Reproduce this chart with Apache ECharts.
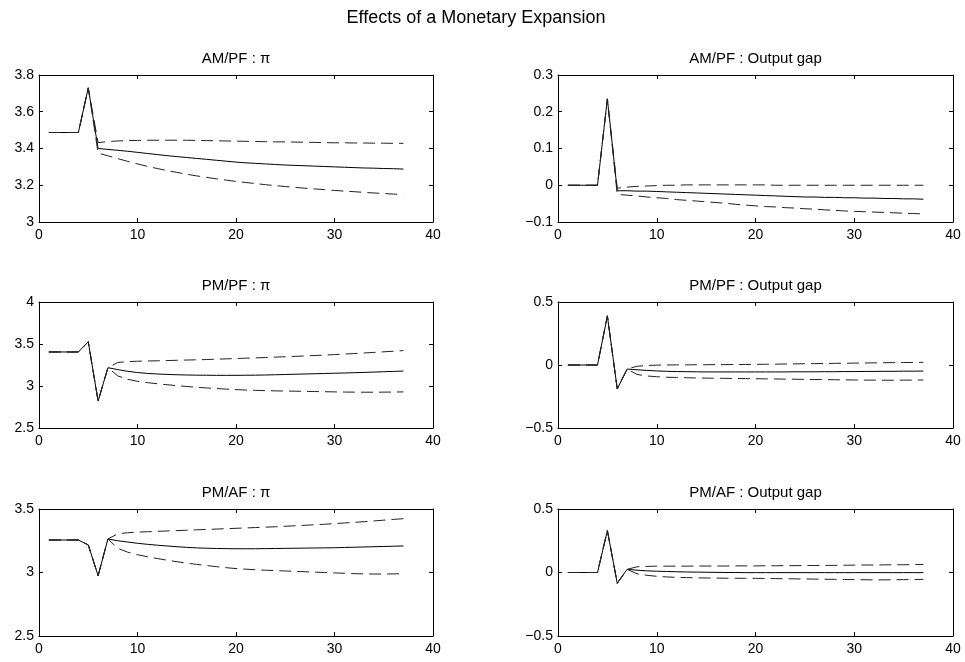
<!DOCTYPE html>
<html>
<head>
    <meta charset="UTF-8">
    <title>Effects of a Monetary Expansion</title>
    <script type="text/javascript" src="https://cdn.jsdelivr.net/npm/echarts@6/dist/echarts.min.js"></script>
</head>
<body style="margin: 0;background: #fff;">
<div id="chart" style="width: 965px;height: 662px;"></div>
<script type="text/javascript">
    var periods = [1, 2, 3, 4, 5, 6, 7, 8, 9, 10, 11, 12, 13, 14, 15, 16, 17, 18, 19, 20,
        21, 22, 23, 24, 25, 26, 27, 28, 29, 30, 31, 32, 33, 34, 35, 36, 37];
    var xTicks = [0, 10, 20, 30, 40];

    // AM/PF : pi
    var amPfInflMed = [3.487, 3.487, 3.487, 3.487, 3.730, 3.400, 3.395, 3.390, 3.385, 3.379, 3.373, 3.367, 3.361, 3.356, 3.351, 3.346, 3.341, 3.336, 3.331, 3.326,
        3.322, 3.319, 3.316, 3.313, 3.310, 3.308, 3.306, 3.304, 3.302, 3.300, 3.298, 3.296, 3.294, 3.293, 3.291, 3.290, 3.288];
    var amPfInflUp = [3.487, 3.487, 3.487, 3.487, 3.730, 3.432, 3.438, 3.441, 3.443, 3.444, 3.445, 3.445, 3.445, 3.445, 3.445, 3.444, 3.443, 3.442, 3.441, 3.440,
        3.439, 3.438, 3.437, 3.436, 3.436, 3.435, 3.434, 3.433, 3.432, 3.431, 3.431, 3.430, 3.430, 3.429, 3.429, 3.428, 3.428];
    var amPfInflLo = [3.487, 3.487, 3.487, 3.487, 3.730, 3.375, 3.360, 3.345, 3.330, 3.316, 3.303, 3.291, 3.280, 3.270, 3.260, 3.251, 3.243, 3.235, 3.228, 3.221,
        3.215, 3.209, 3.203, 3.198, 3.193, 3.188, 3.184, 3.180, 3.176, 3.172, 3.168, 3.165, 3.161, 3.158, 3.155, 3.152, 3.149];
    var amPfInflTicks = [3, 3.2, 3.4, 3.6, 3.8];

    // AM/PF : Output gap
    var amPfGapMed = [0, 0, 0, 0, 0.235, -0.015, -0.015, -0.016, -0.016, -0.017, -0.018, -0.019, -0.020, -0.021, -0.022, -0.023, -0.024, -0.025, -0.026, -0.027,
        -0.028, -0.029, -0.030, -0.031, -0.032, -0.032, -0.033, -0.033, -0.034, -0.034, -0.035, -0.035, -0.036, -0.036, -0.037, -0.037, -0.038];
    var amPfGapUp = [0, 0, 0, 0, 0.235, -0.008, -0.005, -0.003, -0.002, -0.001, 0, 0, 0.001, 0.001, 0.001, 0.001, 0.001, 0.001, 0.001, 0.001,
        0.001, 0, 0, 0, 0, 0, 0, 0, 0, 0, 0, 0, 0, 0, 0, 0, 0];
    var amPfGapLo = [0, 0, 0, 0, 0.235, -0.025, -0.027, -0.029, -0.032, -0.034, -0.036, -0.039, -0.041, -0.043, -0.045, -0.047, -0.049, -0.052, -0.054, -0.056,
        -0.058, -0.059, -0.061, -0.062, -0.064, -0.065, -0.067, -0.068, -0.070, -0.071, -0.072, -0.073, -0.074, -0.075, -0.076, -0.077, -0.078];
    var amPfGapTicks = [-0.1, 0, 0.1, 0.2, 0.3];

    // PM/PF : pi
    var pmPfInflMed = [3.405, 3.405, 3.405, 3.405, 3.527, 2.820, 3.218, 3.195, 3.175, 3.160, 3.150, 3.143, 3.138, 3.134, 3.131, 3.129, 3.128, 3.127, 3.127, 3.127,
        3.128, 3.129, 3.131, 3.134, 3.137, 3.140, 3.143, 3.146, 3.149, 3.152, 3.155, 3.158, 3.162, 3.166, 3.170, 3.174, 3.178];
    var pmPfInflUp = [3.405, 3.405, 3.405, 3.405, 3.527, 2.820, 3.218, 3.280, 3.290, 3.295, 3.298, 3.300, 3.303, 3.306, 3.309, 3.312, 3.315, 3.319, 3.323, 3.327,
        3.331, 3.335, 3.339, 3.344, 3.348, 3.353, 3.358, 3.363, 3.368, 3.374, 3.380, 3.386, 3.393, 3.400, 3.407, 3.414, 3.422];
    var pmPfInflLo = [3.405, 3.405, 3.405, 3.405, 3.527, 2.820, 3.218, 3.120, 3.080, 3.055, 3.040, 3.027, 3.015, 3.004, 2.994, 2.985, 2.977, 2.970, 2.963, 2.957,
        2.952, 2.948, 2.945, 2.942, 2.940, 2.938, 2.936, 2.934, 2.932, 2.930, 2.928, 2.927, 2.926, 2.926, 2.927, 2.928, 2.930];
    var pmPfInflTicks = [2.5, 3, 3.5, 4];

    // PM/PF : Output gap
    var pmPfGapMed = [0, 0, 0, 0, 0.390, -0.190, -0.032, -0.038, -0.043, -0.047, -0.050, -0.052, -0.053, -0.054, -0.055, -0.055, -0.055, -0.055, -0.055, -0.055,
        -0.055, -0.055, -0.055, -0.054, -0.054, -0.054, -0.053, -0.053, -0.052, -0.052, -0.051, -0.051, -0.050, -0.050, -0.049, -0.049, -0.048];
    var pmPfGapUp = [0, 0, 0, 0, 0.390, -0.190, -0.032, -0.010, -0.004, -0.001, 0, 0.001, 0.001, 0.002, 0.002, 0.003, 0.003, 0.004, 0.004, 0.005,
        0.006, 0.007, 0.008, 0.009, 0.010, 0.011, 0.012, 0.013, 0.014, 0.015, 0.016, 0.017, 0.018, 0.019, 0.020, 0.020, 0.021];
    var pmPfGapLo = [0, 0, 0, 0, 0.390, -0.190, -0.032, -0.075, -0.087, -0.093, -0.097, -0.099, -0.101, -0.103, -0.104, -0.105, -0.106, -0.107, -0.108, -0.109,
        -0.110, -0.111, -0.112, -0.113, -0.114, -0.115, -0.116, -0.117, -0.118, -0.119, -0.120, -0.120, -0.121, -0.121, -0.120, -0.120, -0.119];
    var pmPfGapTicks = [-0.5, 0, 0.5];

    // PM/AF : pi
    var pmAfInflMed = [3.256, 3.256, 3.256, 3.256, 3.217, 2.975, 3.264, 3.250, 3.240, 3.230, 3.222, 3.215, 3.209, 3.203, 3.198, 3.194, 3.191, 3.189, 3.188, 3.187,
        3.187, 3.187, 3.188, 3.189, 3.190, 3.191, 3.192, 3.193, 3.194, 3.195, 3.197, 3.199, 3.201, 3.203, 3.205, 3.207, 3.209];
    var pmAfInflUp = [3.256, 3.256, 3.256, 3.256, 3.217, 2.975, 3.264, 3.305, 3.313, 3.318, 3.321, 3.324, 3.327, 3.330, 3.333, 3.336, 3.339, 3.342, 3.345, 3.348,
        3.351, 3.354, 3.357, 3.360, 3.364, 3.368, 3.372, 3.376, 3.380, 3.385, 3.390, 3.395, 3.400, 3.406, 3.412, 3.418, 3.424];
    var pmAfInflLo = [3.256, 3.256, 3.256, 3.256, 3.217, 2.975, 3.264, 3.190, 3.160, 3.140, 3.124, 3.110, 3.097, 3.085, 3.074, 3.064, 3.055, 3.046, 3.038, 3.031,
        3.026, 3.022, 3.018, 3.015, 3.012, 3.009, 3.006, 3.003, 3.000, 2.997, 2.994, 2.991, 2.989, 2.988, 2.988, 2.989, 2.990];
    var pmAfInflTicks = [2.5, 3, 3.5];

    // PM/AF : Output gap
    var pmAfGapMed = [0, 0, 0, 0, 0.330, -0.085, 0.025, 0.018, 0.013, 0.010, 0.008, 0.006, 0.004, 0.003, 0.002, 0.001, 0, 0, -0.001, -0.001,
        -0.001, -0.001, -0.001, -0.001, -0.001, -0.001, -0.001, -0.001, -0.001, -0.001, -0.001, -0.001, -0.001, -0.001, -0.001, -0.001, -0.001];
    var pmAfGapUp = [0, 0, 0, 0, 0.330, -0.085, 0.025, 0.045, 0.048, 0.050, 0.050, 0.050, 0.050, 0.051, 0.051, 0.051, 0.051, 0.052, 0.052, 0.052,
        0.053, 0.053, 0.054, 0.054, 0.055, 0.055, 0.056, 0.056, 0.057, 0.058, 0.059, 0.059, 0.060, 0.061, 0.061, 0.062, 0.063];
    var pmAfGapLo = [0, 0, 0, 0, 0.330, -0.085, 0.025, -0.010, -0.022, -0.030, -0.035, -0.038, -0.040, -0.042, -0.043, -0.044, -0.045, -0.045, -0.046, -0.046,
        -0.047, -0.048, -0.049, -0.050, -0.051, -0.052, -0.053, -0.054, -0.055, -0.056, -0.057, -0.058, -0.058, -0.057, -0.056, -0.055, -0.054];
    var pmAfGapTicks = [-0.5, 0, 0.5];

    var panels = [
        {title: 'AM/PF : \u03c0', med: amPfInflMed, up: amPfInflUp, lo: amPfInflLo, ticks: amPfInflTicks},
        {title: 'AM/PF : Output gap', med: amPfGapMed, up: amPfGapUp, lo: amPfGapLo, ticks: amPfGapTicks},
        {title: 'PM/PF : \u03c0', med: pmPfInflMed, up: pmPfInflUp, lo: pmPfInflLo, ticks: pmPfInflTicks},
        {title: 'PM/PF : Output gap', med: pmPfGapMed, up: pmPfGapUp, lo: pmPfGapLo, ticks: pmPfGapTicks},
        {title: 'PM/AF : \u03c0', med: pmAfInflMed, up: pmAfInflUp, lo: pmAfInflLo, ticks: pmAfInflTicks},
        {title: 'PM/AF : Output gap', med: pmAfGapMed, up: pmAfGapUp, lo: pmAfGapLo, ticks: pmAfGapTicks}
    ];

    var font = '"Liberation Sans", Arial, Helvetica, sans-serif';
    var colLeft = [39, 558], colWidth = [394, 395];
    var rowTop = [75, 302, 509], rowHeight = [147, 126, 127];

    function fmt(v) {
        return String(v).replace('-', '\u2212');
    }

    function pairs(arr) {
        return periods.map(function (p, k) {
            return [p, arr[k]];
        });
    }

    var grids = [], xAxes = [], yAxes = [], series = [], graphics = [];
    graphics.push({
        type: 'text', x: 476, y: 18,
        style: {text: 'Effects of a Monetary Expansion', font: '18px ' + font, fill: '#000',
            textAlign: 'center', textVerticalAlign: 'middle'}
    });

    panels.forEach(function (pn, i) {
        var col = i % 2, row = Math.floor(i / 2);
        grids.push({left: colLeft[col], top: rowTop[row], width: colWidth[col], height: rowHeight[row], containLabel: false});
        graphics.push({
            type: 'text', x: colLeft[col] + colWidth[col] / 2, y: rowTop[row] - 16,
            style: {text: pn.title, font: '15px ' + font, fill: '#000',
                textAlign: 'center', textVerticalAlign: 'middle'}
        });
        var yMin = pn.ticks[0], yMax = pn.ticks[pn.ticks.length - 1];
        ['bottom', 'top'].forEach(function (pos) {
            xAxes.push({
                type: 'value', gridIndex: i, position: pos, min: 0, max: 40, interval: 10,
                axisLine: {show: true, onZero: false, lineStyle: {color: '#000', width: 1}},
                axisTick: {show: true, inside: true, length: 4, customValues: xTicks, lineStyle: {color: '#000'}},
                axisLabel: {show: pos === 'bottom', customValues: xTicks, margin: 6, color: '#000',
                    fontFamily: font, fontSize: 14, formatter: fmt},
                splitLine: {show: false}
            });
        });
        ['left', 'right'].forEach(function (pos) {
            yAxes.push({
                type: 'value', gridIndex: i, position: pos, min: yMin, max: yMax,
                axisLine: {show: true, onZero: false, lineStyle: {color: '#000', width: 1}},
                axisTick: {show: true, inside: true, length: 4, customValues: pn.ticks, lineStyle: {color: '#000'}},
                axisLabel: {show: pos === 'left', customValues: pn.ticks, margin: 5, color: '#000',
                    fontFamily: font, fontSize: 14, formatter: fmt},
                splitLine: {show: false}
            });
        });
        [pn.med, pn.up, pn.lo].forEach(function (arr, k) {
            series.push({
                type: 'line', xAxisIndex: 2 * i, yAxisIndex: 2 * i, data: pairs(arr),
                showSymbol: false, symbol: 'none', silent: true,
                lineStyle: k === 0 ? {color: '#000', width: 1} : {color: '#222', width: 1, type: [12, 6]}
            });
        });
    });

    var chart = echarts.init(document.getElementById('chart'));
    chart.setOption({
        backgroundColor: '#fff',
        animation: false,
        grid: grids,
        xAxis: xAxes,
        yAxis: yAxes,
        series: series,
        graphic: graphics
    });
</script>
</body>
</html>
